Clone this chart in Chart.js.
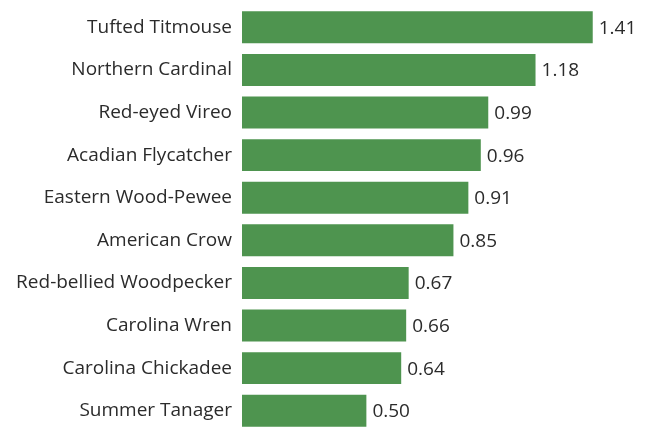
<!DOCTYPE html>
<html>
<head>
<meta charset="utf-8">
<script src="https://cdn.jsdelivr.net/npm/chart.js@4/dist/chart.umd.min.js"></script>
<style>
  html, body { margin: 0; padding: 0; background: #fff; }
  #wrap { width: 650px; height: 437px; }
</style>
</head>
<body>
<div id="wrap"><canvas id="chart"></canvas></div>
<script>
const birds = [
    "Tufted Titmouse",
    "Northern Cardinal",
    "Red-eyed Vireo",
    "Acadian Flycatcher",
    "Eastern Wood-Pewee",
    "American Crow",
    "Red-bellied Woodpecker",
    "Carolina Wren",
    "Carolina Chickadee",
    "Summer Tanager"
];
const values = [1.41, 1.18, 0.99, 0.96, 0.91, 0.85, 0.67, 0.66, 0.64, 0.50];

const ctx = document.getElementById("chart").getContext("2d");

// writes the number just right of each bar
const valueLabels = {
    id: "valueLabels",
    afterDatasetsDraw(chart) {
        const c = chart.ctx;
        const meta = chart.getDatasetMeta(0);
        c.save();
        c.font = "19px 'Open Sans'";
        c.fillStyle = "#2b2b2b";
        c.textAlign = "left";
        c.textBaseline = "middle";
        meta.data.forEach(function (bar, i) {
            c.fillText(values[i].toFixed(2), bar.x + 6, bar.y + 1);
        });
        c.restore();
    }
};

new Chart(ctx, {
    type: "bar",
    data: {
        labels: birds,
        datasets: [{
            data: values,
            backgroundColor: "#4e944f",
            barPercentage: 0.75,
            categoryPercentage: 1
        }]
    },
    options: {
        indexAxis: "y",
        responsive: true,
        maintainAspectRatio: false,
        animation: false,
        layout: { padding: { top: 6, bottom: 5, left: 0, right: 10 } },
        plugins: {
            legend: { display: false },
            tooltip: { enabled: false }
        },
        scales: {
            x: {
                display: false,
                min: 0,
                max: 1.6
            },
            y: {
                grid: { display: false },
                border: { display: false },
                ticks: {
                    color: "#2b2b2b",
                    font: { family: "'Open Sans'", size: 19 },
                    padding: 2
                },
                afterFit: function (axis) {
                    axis.width = 242;
                    axis.paddingTop = 0;
                    axis.paddingBottom = 0;
                }
            }
        }
    },
    plugins: [valueLabels]
});
</script>
</body>
</html>
